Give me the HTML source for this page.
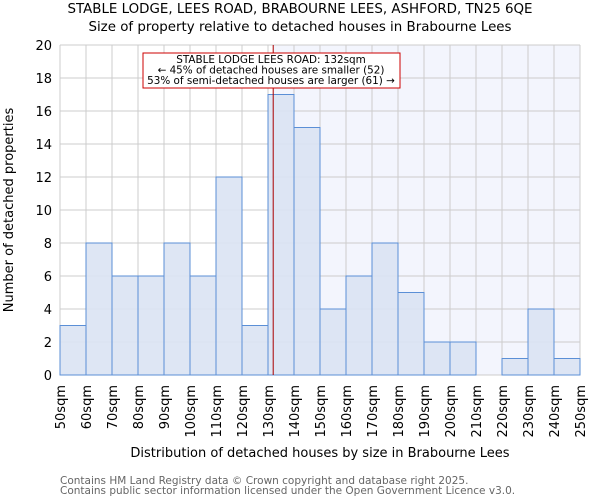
<!DOCTYPE html>
<html><head><meta charset="utf-8"><style>
body{margin:0;background:#fff;font-family:"DejaVu Sans","Liberation Sans",sans-serif}
</style></head><body>
<svg id="chart" width="600" height="500" xmlns="http://www.w3.org/2000/svg" font-family="DejaVu Sans, Liberation Sans, sans-serif">
<text x="300" y="13" text-anchor="middle" font-size="13.4">STABLE LODGE, LEES ROAD, BRABOURNE LEES, ASHFORD, TN25 6QE</text>
<text x="300" y="31" text-anchor="middle" font-size="13.4">Size of property relative to detached houses in Brabourne Lees</text>
<g id="plot"></g>
<text transform="translate(13,210) rotate(-90)" text-anchor="middle" font-size="13">Number of detached properties</text>
<text x="320" y="457" text-anchor="middle" font-size="13">Distribution of detached houses by size in Brabourne Lees</text>
<text x="60" y="484" font-size="10.5" fill="#666">Contains HM Land Registry data © Crown copyright and database right 2025.</text>
<text x="60" y="494" font-size="10.5" fill="#666">Contains public sector information licensed under the Open Government Licence v3.0.</text>
</svg>
<script>
const binStarts=[50,60,70,80,90,100,110,120,130,140,150,160,170,180,190,200,210,220,230,240];
const counts=[3,8,6,6,8,6,12,3,17,15,4,6,8,5,2,2,0,1,4,1];
const xTicks=[50,60,70,80,90,100,110,120,130,140,150,160,170,180,190,200,210,220,230,240,250];
const yTicks=[0,2,4,6,8,10,12,14,16,18,20];
const subjectSize=132;
const L=60,R=580,T=45,B=375;
const x=v=>L+(v-50)/200*(R-L);
const y=v=>B-v/20*(B-T);
const ns="http://www.w3.org/2000/svg";
const g=document.getElementById('plot');
function el(t,a){const e=document.createElementNS(ns,t);for(const k in a)e.setAttribute(k,a[k]);g.appendChild(e);return e;}
let e=el('rect',{x:x(subjectSize),y:T,width:R-x(subjectSize),height:B-T,fill:'#f3f5fd'});


xTicks.forEach(v=>{const l=el('line',{x1:x(v),x2:x(v),y1:T,y2:B,stroke:'#cccccc','stroke-width':1});

});
yTicks.forEach(v=>{const l=el('line',{x1:L,x2:R,y1:y(v),y2:y(v),stroke:'#cccccc','stroke-width':1});


const t=el('text',{x:L-8,y:y(v)+5,'text-anchor':'end','font-size':13});t.textContent=v;

});
binStarts.forEach((s,i)=>{if(!counts[i])return;const r=el('rect',{x:x(s),y:y(counts[i]),width:x(s+10)-x(s),height:B-y(counts[i]),fill:'#dae3f3',stroke:'#5b8fd6','stroke-width':1,'fill-opacity':0.9});

});
xTicks.forEach(v=>{const t=el('text',{transform:`translate(${x(v)+5},385) rotate(-90)`,'text-anchor':'end','font-size':13});t.textContent=v+'sqm';

});
e=el('line',{x1:x(subjectSize),x2:x(subjectSize),y1:T,y2:B,stroke:'#aa0000','stroke-width':1});


e=el('rect',{x:143,y:53,width:257,height:35,fill:'#fff',stroke:'#cc0000','stroke-width':1});


['STABLE LODGE LEES ROAD: 132sqm','← 45% of detached houses are smaller (52)','53% of semi-detached houses are larger (61) →'].forEach((s,i)=>{const t=el('text',{x:271,y:63+i*10.5,'text-anchor':'middle','font-size':10.4});t.textContent=s;

});
</script>
</body></html>
